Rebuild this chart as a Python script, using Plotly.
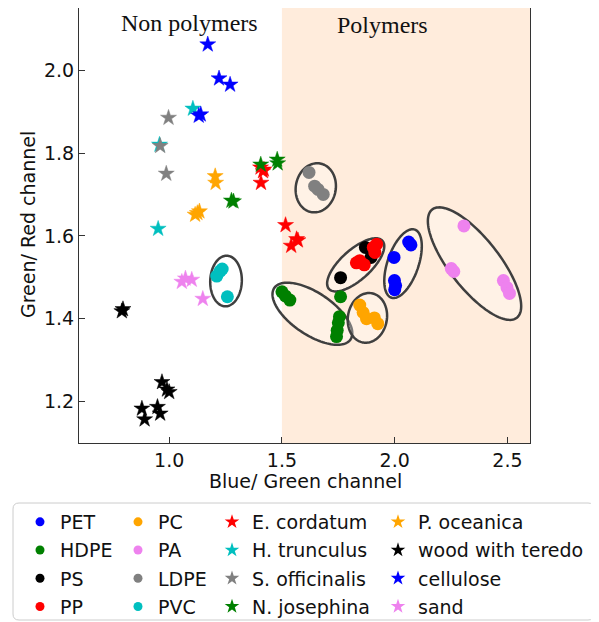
import numpy as np
import plotly.graph_objects as go

# ---------------- data ----------------
PET_x = [2.062, 2.072, 1.997, 1.999, 2.004, 2.000]
PET_y = [1.585, 1.578, 1.548, 1.492, 1.480, 1.470]
HDPE_x = [1.500, 1.515, 1.535, 1.760, 1.755, 1.750, 1.745, 1.742]
HDPE_y = [1.465, 1.455, 1.445, 1.453, 1.405, 1.390, 1.372, 1.357]
PS_x = [1.760, 1.870, 1.895]
PS_y = [1.499, 1.572, 1.548]
PP_x = [1.905, 1.920, 1.912, 1.845, 1.865, 1.830]
PP_y = [1.572, 1.580, 1.560, 1.540, 1.530, 1.535]
PC_x = [1.845, 1.860, 1.875, 1.910, 1.925]
PC_y = [1.433, 1.415, 1.400, 1.402, 1.388]
PA_x = [2.307, 2.251, 2.262, 2.482, 2.498, 2.509]
PA_y = [1.624, 1.521, 1.514, 1.492, 1.475, 1.461]
LDPE_x = [1.620, 1.645, 1.660, 1.683]
LDPE_y = [1.753, 1.720, 1.712, 1.700]
PVC_x = [1.226, 1.211, 1.235, 1.258]
PVC_y = [1.515, 1.503, 1.520, 1.453]

ECORD_x = [1.416, 1.407, 1.420, 1.405, 1.516, 1.565, 1.541, 1.571]
ECORD_y = [1.756, 1.728, 1.760, 1.765, 1.626, 1.592, 1.576, 1.589]
HTRUN_x = [1.105, 0.957, 0.951]
HTRUN_y = [1.907, 1.820, 1.617]
SOFF_x = [0.997, 0.960, 0.987]
SOFF_y = [1.885, 1.817, 1.750]
NJOS_x = [1.406, 1.479, 1.481, 1.276, 1.285]
NJOS_y = [1.772, 1.784, 1.775, 1.685, 1.683]
POCE_x = [1.204, 1.206, 1.134, 1.115, 1.125]
POCE_y = [1.744, 1.728, 1.659, 1.651, 1.655]
WOOD_x = [0.795, 0.790, 0.968, 1.000, 0.990, 0.879, 0.891, 0.948, 0.960]
WOOD_y = [1.423, 1.418, 1.247, 1.223, 1.229, 1.183, 1.157, 1.187, 1.171]
CELL_x = [1.171, 1.221, 1.270, 1.131, 1.140]
CELL_y = [2.062, 1.980, 1.965, 1.890, 1.893]
SAND_x = [1.056, 1.100, 1.072, 1.149]
SAND_y = [1.489, 1.494, 1.497, 1.448]

polymers = [
    ("PET", PET_x, PET_y, "#0000FF"),
    ("HDPE", HDPE_x, HDPE_y, "#008000"),
    ("PS", PS_x, PS_y, "#000000"),
    ("PP", PP_x, PP_y, "#FF0000"),
    ("PC", PC_x, PC_y, "#FFA500"),
    ("PA", PA_x, PA_y, "#EE82EE"),
    ("LDPE", LDPE_x, LDPE_y, "#808080"),
    ("PVC", PVC_x, PVC_y, "#00BFBF"),
]
others = [
    ("E. cordatum", ECORD_x, ECORD_y, "#FF0000"),
    ("H. trunculus", HTRUN_x, HTRUN_y, "#00BFBF"),
    ("S. officinalis", SOFF_x, SOFF_y, "#808080"),
    ("N. josephina", NJOS_x, NJOS_y, "#008000"),
    ("P. oceanica", POCE_x, POCE_y, "#FFA500"),
    ("wood with teredo", WOOD_x, WOOD_y, "#000000"),
    ("cellulose", CELL_x, CELL_y, "#0000FF"),
    ("sand", SAND_x, SAND_y, "#EE82EE"),
]

# ellipses: center (data), semi-axes (px), angle (deg, on screen)
ELL_cx = [1.650, 1.252, 1.635, 1.827, 1.879, 2.037, 2.354]
ELL_cy = [1.716, 1.491, 1.412, 1.530, 1.402, 1.533, 1.533]
ELL_a = [24.7, 25.3, 46.0, 36.0, 25.0, 36.0, 68.7]
ELL_b = [20.0, 15.8, 21.0, 15.0, 19.5, 15.5, 25.0]
ELL_ang = [80, 88, -34, 42, 80, 71, -52]

XR = [0.6, 2.6]
YR = [1.1, 2.15]
# the page body adds an 8px offset, so the figure is drawn 8px smaller
W, H = 591, 614
ML, MR, MT, MB = 71, 69, 0, 179
PW = W - ML - MR
PH = H - MT - MB
sx = PW / (XR[1] - XR[0])
sy = PH / (YR[1] - YR[0])

fig = go.Figure()

shapes = [dict(type="rect", xref="x", yref="paper", x0=1.5, x1=2.6, y0=0, y1=1,
               fillcolor="#FFDAB9", opacity=0.5, line=dict(width=0), layer="below")]

t = np.linspace(0, 2 * np.pi, 120)
for cx, cy, a, b, ang in zip(ELL_cx, ELL_cy, ELL_a, ELL_b, ELL_ang):
    th = np.deg2rad(ang)
    u = a * np.cos(t) * np.cos(th) - b * np.sin(t) * np.sin(th)
    v = a * np.cos(t) * np.sin(th) + b * np.sin(t) * np.cos(th)
    xs = cx + u / sx
    ys = cy + v / sy
    path = "M " + " L ".join(f"{x:.5f},{y:.5f}" for x, y in zip(xs, ys)) + " Z"
    shapes.append(dict(type="path", path=path, xref="x", yref="y",
                       fillcolor="rgba(255,255,255,0.3)",
                       line=dict(color="#3f3f3f", width=2.5), layer="below"))

# data traces
for name, xs, ys, c in polymers:
    fig.add_trace(go.Scatter(x=xs, y=ys, mode="markers", name=name, showlegend=False,
                             marker=dict(symbol="circle", size=13, color=c, line=dict(width=0))))
for name, xs, ys, c in others:
    fig.add_trace(go.Scatter(x=xs, y=ys, mode="markers", name=name, showlegend=False,
                             marker=dict(symbol="star", size=12, color=c, line=dict(width=0.5, color=c))))

# legend-only traces, 4 columns
groups = [polymers[:4], polymers[4:], others[:4], others[4:]]
legnames = ["legend", "legend2", "legend3", "legend4"]
for gi, (grp, lg) in enumerate(zip(groups, legnames)):
    sym = "circle" if gi < 2 else "star"
    for name, xs, ys, c in grp:
        fig.add_trace(go.Scatter(x=[None], y=[None], mode="markers", name=name,
                                 legend=lg, legendgroup=name,
                                 marker=dict(symbol=sym, size=9 if sym == "circle" else 11, color=c)))

col_text_px = [52, 150, 244, 410]
leg_top_px = 495
legfont = dict(family="DejaVu Sans", size=19, color="#111111")
legend_common = dict(orientation="v", xanchor="left", yanchor="top",
                     xref="container", yref="container",
                     y=1 - leg_top_px / H, bgcolor="rgba(0,0,0,0)",
                     borderwidth=0, font=legfont, tracegroupgap=0.5, itemsizing="trace")
lay_leg = {}
for lg, tpx in zip(legnames, col_text_px):
    d = dict(legend_common)
    d["x"] = (tpx - 40) / W
    lay_leg[lg] = d

# legend frame (figure pixels)
bx0, bx1, by0, by1 = 5, 586, 495, 612
def px2px(xp): return (xp - ML) / PW
def py2py(yp): return (MT + PH - yp) / PH
r = 6
rx = r / PW
ry = r / PH
X0, X1, Y0, Y1 = px2px(bx0), px2px(bx1), py2py(by1), py2py(by0)
frame = (f"M {X0+rx},{Y1} L {X1-rx},{Y1} Q {X1},{Y1} {X1},{Y1-ry} "
         f"L {X1},{Y0+ry} Q {X1},{Y0} {X1-rx},{Y0} L {X0+rx},{Y0} "
         f"Q {X0},{Y0} {X0},{Y0+ry} L {X0},{Y1-ry} Q {X0},{Y1} {X0+rx},{Y1} Z")
shapes.append(dict(type="path", path=frame, xref="paper", yref="paper",
                   line=dict(color="#cccccc", width=1), fillcolor="rgba(255,255,255,0.8)"))

axis_common = dict(showline=True, mirror=True, linecolor="#333333", linewidth=1.2,
                   ticks="inside", ticklen=6, tickcolor="#333333", showgrid=False,
                   zeroline=False, automargin=False,
                   tickfont=dict(family="DejaVu Sans", size=19, color="#111111"),
                   tickformat=".1f")

title_font = dict(family="DejaVu Sans", size=19, color="#111111")

fig.update_layout(
    width=W, height=H,
    margin=dict(l=ML, r=MR, t=MT, b=MB, pad=0, autoexpand=False),
    plot_bgcolor="white", paper_bgcolor="white",
    xaxis=dict(range=XR, tickvals=[1.0, 1.5, 2.0, 2.5], **axis_common),
    yaxis=dict(range=YR, tickvals=[1.2, 1.4, 1.6, 1.8, 2.0], **axis_common),
    shapes=shapes,
    annotations=[
        dict(x=1.088, y=2.113, xref="x", yref="y", text="Non polymers", showarrow=False,
             font=dict(family="Liberation Serif", size=24, color="#111111")),
        dict(x=1.948, y=2.110, xref="x", yref="y", text="Polymers", showarrow=False,
             font=dict(family="Liberation Serif", size=24, color="#111111")),
        dict(x=px2px(297), y=py2py(473), xref="paper", yref="paper",
             xanchor="center", yanchor="middle",
             text="Blue/ Green channel", showarrow=False, font=title_font),
        dict(x=px2px(20), y=py2py(217), xref="paper", yref="paper", textangle=-90,
             xanchor="center", yanchor="middle",
             text="Green/ Red channel", showarrow=False, font=title_font),
    ],
    **lay_leg,
)

fig.write_html("out.html")
